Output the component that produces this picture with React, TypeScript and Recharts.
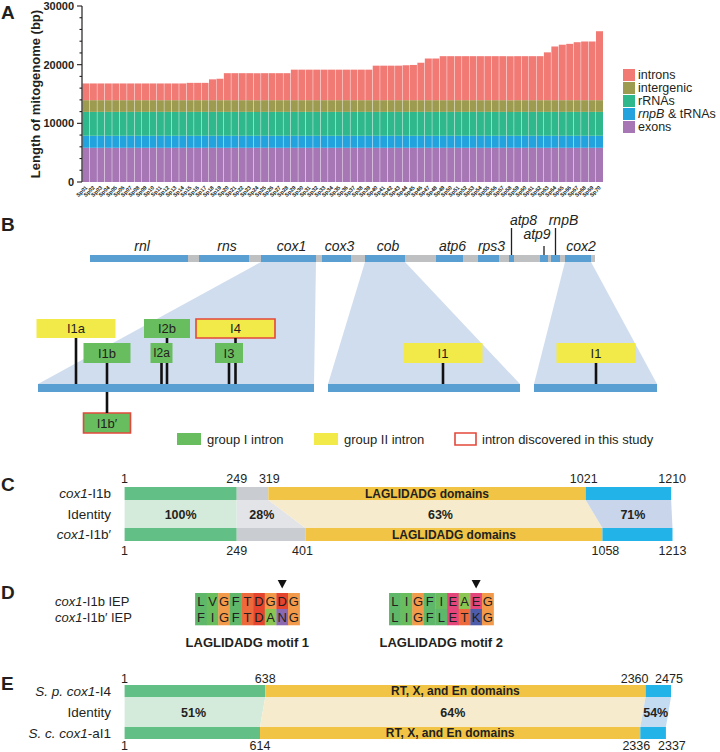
import React from 'react';
import {
  BarChart,
  Bar,
  XAxis,
  YAxis,
  Legend,
  ComposedChart,
  Area,
  ReferenceArea,
  ReferenceLine,
  Scatter,
} from 'recharts';

const SANS = "'Liberation Sans', Arial, Helvetica, sans-serif";
const INK = '#231f20';

// ---------------- A: mitogenome composition ----------------
const strainNames = (
  'Sp01 Sp02 Sp03 Sp04 Sp05 Sp06 Sp07 Sp08 Sp09 Sp10 Sp11 Sp12 Sp13 Sp14 ' +
  'Sp15 Sp16 Sp17 Sp18 Sp19 Sp20 Sp21 Sp22 Sp23 Sp24 Sp25 Sp26 Sp27 Sp28 ' +
  'Sp29 Sp30 Sp31 Sp32 Sp33 Sp34 Sp35 Sp36 Sp37 Sp38 Sp39 Sp40 Sp41 Sp42 ' +
  'Sp43 Sp44 Sp45 Sp46 Sp47 Sp48 Sp49 Sp50 Sp51 Sp52 Sp53 Sp54 Sp55 Sp56 ' +
  'Sp57 Sp58 Sp59 Sp60 Sp61 Sp62 Sp63 Sp64 Sp65 Sp66 Sp67 Sp68 Sp69 Sp70'
).split(' ');

const genomeLength = [
  16800, 16800, 16800, 16800, 16800, 16800, 16800, 16800, 16800, 16800, 16800, 16800, 16800, 16800,
  16900, 16900, 16900, 17500, 17600,
  18550, 18550, 18550, 18550, 18550, 18550, 18550, 18550, 18550,
  19150, 19150, 19150, 19150, 19150, 19150, 19150, 19150, 19150, 19150, 19150,
  19830, 19830, 19830, 19830, 19900, 19950, 20330, 21050, 21050,
  21450, 21450, 21450, 21450, 21450, 21450, 21450, 21450, 21450, 21450, 21450, 21450, 21450, 21450,
  22100, 23100, 23400, 23550, 23830, 23950, 23950, 25700,
];
const exonLength = 5830;
const rnpbTrnaLength = 2050;
const rrnaLength = 4070;
const intergenicLength = 2000;
const lengthTicks = [0, 2000, 4000, 6000, 8000, 10000, 12000, 14000, 16000, 18000, 20000, 22000, 24000, 26000, 28000, 30000];

const compositionSeries = [
  { key: 'exons', label: 'exons', color: '#a676b5' },
  { key: 'rnpB', label: 'rnpB & tRNAs', color: '#23a3dd' },
  { key: 'rRNAs', label: 'rRNAs', color: '#2fb88b' },
  { key: 'intergenic', label: 'intergenic', color: '#9c9b4f' },
  { key: 'introns', label: 'introns', color: '#f27a75' },
];

const compositionData = strainNames.map((name, i) => ({
  name,
  exons: exonLength,
  rnpB: rnpbTrnaLength,
  rRNAs: rrnaLength,
  intergenic: intergenicLength,
  introns: genomeLength[i] - exonLength - rnpbTrnaLength - rrnaLength - intergenicLength,
}));

// ---------------- B: gene map and intron positions ----------------
const geneMap = [
  { gene: 'rnl', start: 90, end: 188 },
  { gene: 'rns', start: 199, end: 249 },
  { gene: 'cox1', start: 261, end: 316 },
  { gene: 'cox3', start: 322, end: 351 },
  { gene: 'cob', start: 365, end: 405 },
  { gene: 'atp6', start: 436, end: 463 },
  { gene: 'rps3', start: 478, end: 499 },
  { gene: 'atp8', start: 509, end: 514 },
  { gene: 'atp9', start: 540, end: 548 },
  { gene: 'rnpB', start: 551, end: 560 },
  { gene: 'cox2', start: 565, end: 591 },
];
const mapSpan = [90, 595];
const expandedGenes = [
  { gene: 'cox1', from: 38, to: 314 },
  { gene: 'cob', from: 328, to: 520 },
  { gene: 'cox2', from: 534, to: 657 },
];
const introns = [
  { name: 'I1a', site: 76, group: 'II', tier: 'upper', novel: false },
  { name: 'I2b', site: 167, group: 'I', tier: 'upper', novel: false },
  { name: 'I4', site: 235.5, group: 'II', tier: 'upper', novel: true },
  { name: 'I1b', site: 107, group: 'I', tier: 'middle', novel: false },
  { name: 'I2a', site: 161.5, group: 'I', tier: 'middle', novel: false },
  { name: 'I3', site: 229, group: 'I', tier: 'middle', novel: false },
  { name: 'I1', site: 443, group: 'II', tier: 'middle', novel: false },
  { name: 'I1', site: 596, group: 'II', tier: 'middle', novel: false },
  { name: 'I1b′', site: 107, group: 'I', tier: 'below', novel: true },
];
const intronBoxWidth: Record<string, number> = { I1a: 79, I2b: 46, I4: 79, I1b: 47, I2a: 22, I3: 28, I1: 79, 'I1b′': 47 };
const intronLegend = [
  { label: 'group I intron', kind: 'I' },
  { label: 'group II intron', kind: 'II' },
  { label: 'intron discovered in this study', kind: 'novel' },
];

// ---------------- C: cox1-I1b vs cox1-I1b' ----------------
const i1bBounds = [1, 249, 319, 1021, 1210];
const i1bPrimeBounds = [1, 249, 401, 1058, 1213];
const i1bIdentity = ['100%', '28%', '63%', '71%'];

// ---------------- D: LAGLIDADG motifs ----------------
const iepNames = ['*cox1*-I1b IEP', '*cox1*-I1b′ IEP'];
const motifSeqs = [
  ['LVGFTDGDG', 'FIGFTDANG'],
  ['LIGFIEAEG', 'LIGFLETKG'],
];
const motifTitles = ['LAGLIDADG motif 1', 'LAGLIDADG motif 2'];
const motifStartCol = [16.8, 33.5];
const markedResidue = 7;

// ---------------- E: S. p. cox1-I4 vs S. c. cox1-aI1 ----------------
const i4Bounds = [1, 638, 2360, 2475];
const ai1Bounds = [1, 614, 2336, 2452]; // last block drawn wider than its length
const ai1Labels = [1, 614, 2336, 2337];
const i4Identity = ['51%', '64%', '54%'];

// ---------------- colours ----------------
const GENE_BLUE = '#5a9fd2';
const MAP_GREY = '#bfc0c2';
const ZOOM_FILL = '#d0ddee';
const GROUP1 = '#68bd5e';
const GROUP2 = '#f1ea48';
const NOVEL = '#e2483b';
const SEG = { n: '#62bf85', link: '#c9ccd0', dom: '#f1c445', c: '#22b4e9' };
const BAND = { n: '#d4ebdc', link: '#e2e4e7', dom: '#f6ebcc', c: '#c9d5ea', c2: '#c3dcf2' };
const residueColors: Record<string, string> = {
  L: '#5fb86a', V: '#6abd5c', I: '#6abd5c', F: '#5fb86a', A: '#8cc652',
  G: '#f39a4a', T: '#ec6a3c', D: '#e5442f', N: '#8c68b0', E: '#e4457a', K: '#4e5daa',
};

// "*text*" marks italic pieces
const rich = (s: string) =>
  s.split('*').map((seg, k) =>
    seg ? (
      <tspan key={k} fontStyle={k % 2 ? 'italic' : undefined}>
        {seg}
      </tspan>
    ) : null
  );

const textShape =
  (size: number, weight = 400, anchor = 'middle', italic = false) =>
  (p: any) =>
    (
      <text
        x={p.cx + (p.payload.dx || 0)}
        y={p.cy}
        textAnchor={anchor}
        fontSize={size}
        fontWeight={weight}
        fontStyle={italic ? 'italic' : 'normal'}
        fill={INK}
        fontFamily={SANS}
      >
        {rich(p.payload.t)}
      </text>
    );

// trapezoid between a top span and a bottom span, as a range area over x
function bandPoints(top: number[], bottom: number[], yTop: number, yBot: number) {
  const [a, b] = top;
  const [c, d] = bottom;
  const xs = Array.from(new Set([a, b, c, d])).sort((p, q) => p - q);
  return xs.map((x) => {
    let t0 = 0;
    let t1 = 1;
    const edge = (p0: number, p1: number, isLeft: boolean) => {
      const k = p1 - p0;
      if (Math.abs(k) < 1e-9) return;
      const t = (x - p0) / k;
      if (isLeft === k > 0) t1 = Math.min(t1, t);
      else t0 = Math.max(t0, t);
    };
    edge(a, c, true);
    edge(b, d, false);
    t0 = Math.min(Math.max(t0, 0), 1);
    t1 = Math.min(Math.max(t1, t0), 1);
    return { x, y: [yTop + (yBot - yTop) * t0, yTop + (yBot - yTop) * t1] };
  });
}

// ---------------- panel A ----------------
const AXIS_X = 82;

function LengthTick({ y, payload }: any) {
  const major = payload.value % 10000 === 0;
  return (
    <g>
      <line x1={AXIS_X - (major ? 5 : 2.5)} x2={AXIS_X} y1={y} y2={y} stroke={INK} strokeWidth={1.1} />
      {major && (
        <text x={AXIS_X - 8} y={y + 4} textAnchor="end" fontSize={11} fontWeight={700} fill={INK} fontFamily={SANS}>
          {payload.value}
        </text>
      )}
    </g>
  );
}

function StrainTick({ x, y, payload }: any) {
  const tx = x + 2;
  const ty = y + 4;
  return (
    <text x={tx} y={ty} transform={`rotate(-45 ${tx} ${ty})`} textAnchor="end" fontSize={5.5} fontWeight={700} fill={INK} fontFamily={SANS}>
      {payload.value}
    </text>
  );
}

function CompositionLegend({ payload }: any) {
  const byName: Record<string, string> = {};
  (payload || []).forEach((e: any) => (byName[e.value] = e.color));
  const items = [...compositionSeries].reverse();
  return (
    <div style={{ fontFamily: SANS, fontSize: 12.5, color: INK }}>
      {items.map((s) => (
        <div key={s.key} style={{ display: 'flex', alignItems: 'center', height: 12.9, lineHeight: '12.9px' }}>
          <span style={{ width: 12, height: 12, background: byName[s.label] || s.color, marginRight: 3, flex: 'none' }} />
          <span style={{ whiteSpace: 'nowrap' }}>
            {s.label === 'rnpB & tRNAs' ? (
              <>
                <i>rnpB</i> &amp; tRNAs
              </>
            ) : (
              s.label
            )}
          </span>
        </div>
      ))}
    </div>
  );
}

function PanelA() {
  return (
    <div style={{ position: 'absolute', left: 0, top: 0 }}>
      <BarChart
        width={720}
        height={200}
        data={compositionData}
        margin={{ top: 6, right: 117, bottom: 0, left: 0 }}
        barCategoryGap={0.45}
      >
        <XAxis dataKey="name" interval={0} height={18} axisLine={false} tickLine={false} tickSize={0} tickMargin={2} tick={(p: any) => <StrainTick {...p} />} />
        <YAxis
          width={AXIS_X}
          domain={[0, 30000]}
          ticks={lengthTicks}
          interval={0}
          tickLine={false}
          axisLine={{ stroke: INK, strokeWidth: 1.2 }}
          tick={(p: any) => <LengthTick {...p} />}
          label={{
            value: 'Length of mitogenome (bp)',
            angle: -90,
            position: 'insideLeft',
            offset: 35,
            style: { textAnchor: 'middle', fontSize: 13, fontWeight: 700, fill: INK, fontFamily: SANS },
          }}
        />
        {compositionSeries.map((s) => (
          <Bar key={s.key} dataKey={s.key} name={s.label} stackId="len" fill={s.color} isAnimationActive={false} />
        ))}
        <Legend
          layout="vertical"
          align="center"
          verticalAlign="middle"
          wrapperStyle={{ left: 623, top: 69, width: 97 }}
          content={(p: any) => <CompositionLegend {...p} />}
        />
      </BarChart>
    </div>
  );
}

// ---------------- panel B ----------------
const MAP_Y = [255, 262];
const BASE_Y = [384, 392];
const TIER_Y: Record<string, number[]> = { upper: [319, 338], middle: [343, 363], below: [413, 433] };

// vertical stem pieces from an intron box to its exon line, skipping other boxes it passes behind
function stemPieces(n: (typeof introns)[number]) {
  const [y1, y2] = TIER_Y[n.tier];
  let pieces = [n.tier === 'below' ? [BASE_Y[1], y1] : [y2, BASE_Y[0]]];
  introns.forEach((o) => {
    if (o === n) return;
    const w = intronBoxWidth[o.name];
    if (Math.abs(o.site - n.site) > w / 2) return;
    const [b1, b2] = TIER_Y[o.tier];
    pieces = pieces.flatMap(([s, e]) => {
      if (b2 <= s || b1 >= e) return [[s, e]];
      const out: number[][] = [];
      if (b1 > s) out.push([s, b1]);
      if (b2 < e) out.push([b2, e]);
      return out;
    });
  });
  return pieces;
}

function PanelB() {
  const geneOf = (g: string) => geneMap.find((m) => m.gene === g)!;
  const plainLabels = geneMap
    .filter((g) => !['atp8', 'atp9', 'rnpB'].includes(g.gene))
    .map((g) => ({ x: (g.start + g.end) / 2 + 3, y: 251, t: g.gene }));
  const callouts = [
    { gene: 'atp8', labelY: 225, lineTop: 228, dx: 12 },
    { gene: 'rnpB', labelY: 225, lineTop: 228, dx: 8 },
    { gene: 'atp9', labelY: 239, lineTop: 246, dx: -7 },
  ];
  return (
    <div style={{ position: 'absolute', left: 0, top: 212 }}>
      <ComposedChart width={720} height={240} margin={{ top: 0, right: 0, bottom: 0, left: 0 }}>
        <XAxis type="number" dataKey="x" domain={[0, 720]} hide />
        <YAxis type="number" dataKey="y" domain={[212, 452]} reversed hide />
        {expandedGenes.map((z) => {
          const g = geneOf(z.gene);
          return (
            <Area
              key={z.gene}
              data={bandPoints([g.start, g.end], [z.from, z.to], MAP_Y[1], BASE_Y[0])}
              dataKey="y"
              type="linear"
              stroke="none"
              fill={ZOOM_FILL}
              fillOpacity={1}
              dot={false}
              activeDot={false}
              isAnimationActive={false}
            />
          );
        })}
        <ReferenceArea x1={mapSpan[0]} x2={mapSpan[1]} y1={MAP_Y[0]} y2={MAP_Y[1]} fill={MAP_GREY} fillOpacity={1} />
        {geneMap.map((g) => (
          <ReferenceArea key={g.gene} x1={g.start} x2={g.end} y1={MAP_Y[0]} y2={MAP_Y[1]} fill={GENE_BLUE} fillOpacity={1} />
        ))}
        {callouts.map((c) => {
          const g = geneOf(c.gene);
          const cx = (g.start + g.end) / 2;
          return (
            <ReferenceLine
              key={c.gene}
              segment={[{ x: cx, y: c.lineTop }, { x: cx, y: MAP_Y[0] }]}
              stroke={INK}
              strokeWidth={1.3}
            />
          );
        })}
        {expandedGenes.map((z) => (
          <ReferenceArea key={z.gene + 'base'} x1={z.from} x2={z.to} y1={BASE_Y[0]} y2={BASE_Y[1]} fill={GENE_BLUE} fillOpacity={1} />
        ))}
        {introns.flatMap((n, i) =>
          stemPieces(n).map(([s, e], k) => (
            <ReferenceLine
              key={`stem${i}-${k}`}
              segment={[{ x: n.site, y: s }, { x: n.site, y: e }]}
              stroke="#111"
              strokeWidth={2.6}
            />
          ))
        )}
        {introns.map((n, i) => {
          const [y1, y2] = TIER_Y[n.tier];
          const w = intronBoxWidth[n.name];
          return (
            <ReferenceArea
              key={'box' + i}
              x1={n.site - w / 2}
              x2={n.site + w / 2}
              y1={y1}
              y2={y2}
              fill={n.group === 'I' ? GROUP1 : GROUP2}
              fillOpacity={1}
              stroke={n.novel ? NOVEL : 'none'}
              strokeWidth={n.novel ? 1.6 : 0}
              label={{ value: n.name, position: 'center', fontSize: w < 25 ? 12 : 13, fill: INK, fontFamily: SANS }}
            />
          );
        })}
        {intronLegend.map((l, i) => {
          const x = [177, 314, 455][i];
          const w = l.kind === 'novel' ? 21 : 24;
          return (
            <ReferenceArea
              key={l.label}
              x1={x}
              x2={x + w}
              y1={433}
              y2={445}
              fill={l.kind === 'I' ? GROUP1 : l.kind === 'II' ? GROUP2 : '#fff'}
              fillOpacity={1}
              stroke={l.kind === 'novel' ? NOVEL : 'none'}
              strokeWidth={1.6}
              label={{ value: l.label, position: 'right', offset: 6, fontSize: 13, fill: INK, fontFamily: SANS }}
            />
          );
        })}
        <Scatter data={plainLabels} shape={textShape(14, 400, 'middle', true)} isAnimationActive={false} />
        <Scatter
          data={callouts.map((c) => {
            const g = geneOf(c.gene);
            return { x: (g.start + g.end) / 2 + c.dx, y: c.labelY, t: c.gene };
          })}
          shape={textShape(14, 400, 'middle', true)}
          isAnimationActive={false}
        />
      </ComposedChart>
    </div>
  );
}

// ---------------- panels C and E ----------------
function AlignmentPanel(p: {
  top: number;
  height: number;
  max: number;
  right: number;
  rows: string[];
  rowY: number[];
  upper: number[];
  lower: number[];
  upperText: number[];
  lowerText: number[];
  upperDx: number[];
  lowerDx: number[];
  identity: string[];
  segColors: string[];
  bandColors: string[];
  domainIdx: number;
  domainText: string;
  bar1: number[];
  bar2: number[];
  numTop: number;
  numBot: number;
  idY: number;
}) {
  const nSeg = p.upper.length - 1;
  const segIdx = Array.from({ length: nSeg }, (_, i) => i);
  const idMarks = segIdx.map((i) => ({
    x: (p.upper[i] + p.upper[i + 1] + p.lower[i] + p.lower[i + 1]) / 4,
    y: p.idY,
    t: p.identity[i],
  }));
  const domainLabel = { value: p.domainText, position: 'center', fontSize: 12, fontWeight: 700, fill: INK, fontFamily: SANS };
  return (
    <div style={{ position: 'absolute', left: 0, top: p.top }}>
      <ComposedChart width={720} height={p.height} margin={{ top: 0, right: p.right, bottom: 0, left: 0 }}>
        <XAxis type="number" dataKey="x" domain={[1, p.max]} hide />
        <YAxis
          type="number"
          dataKey="y"
          domain={[p.top, p.top + p.height]}
          reversed
          width={124.6}
          axisLine={false}
          tickLine={false}
          tickSize={0}
          tickMargin={13.6}
          ticks={p.rowY}
          interval={0}
          tick={(t: any) => (
            <text x={t.x} y={t.y + 4.5} textAnchor="end" fontSize={13.5} fill={INK} fontFamily={SANS}>
              {rich(p.rows[t.index])}
            </text>
          )}
        />
        {segIdx.map((i) => (
          <Area
            key={'band' + i}
            data={bandPoints([p.upper[i], p.upper[i + 1]], [p.lower[i], p.lower[i + 1]], p.bar1[1], p.bar2[0])}
            dataKey="y"
            type="linear"
            stroke="none"
            fill={p.bandColors[i]}
            fillOpacity={1}
            dot={false}
            activeDot={false}
            isAnimationActive={false}
          />
        ))}
        {segIdx.map((i) => (
          <ReferenceArea
            key={'u' + i}
            x1={p.upper[i]}
            x2={p.upper[i + 1]}
            y1={p.bar1[0]}
            y2={p.bar1[1]}
            fill={p.segColors[i]}
            fillOpacity={1}
            label={i === p.domainIdx ? domainLabel : undefined}
          />
        ))}
        {segIdx.map((i) => (
          <ReferenceArea
            key={'l' + i}
            x1={p.lower[i]}
            x2={p.lower[i + 1]}
            y1={p.bar2[0]}
            y2={p.bar2[1]}
            fill={p.segColors[i]}
            fillOpacity={1}
            label={i === p.domainIdx ? domainLabel : undefined}
          />
        ))}
        <Scatter
          data={p.upper.map((v, i) => ({ x: v, y: p.numTop, t: String(p.upperText[i]), dx: p.upperDx[i] }))}
          shape={textShape(12.5)}
          isAnimationActive={false}
        />
        <Scatter
          data={p.lower.map((v, i) => ({ x: v, y: p.numBot, t: String(p.lowerText[i]), dx: p.lowerDx[i] }))}
          shape={textShape(12.5)}
          isAnimationActive={false}
        />
        <Scatter
          data={idMarks}
          shape={(s: any) => (
            <text x={s.cx} y={s.cy + 4.5} textAnchor="middle" fontSize={12.5} fontWeight={700} fill={INK} fontFamily={SANS}>
              {s.payload.t}
            </text>
          )}
          isAnimationActive={false}
        />
      </ComposedChart>
    </div>
  );
}

// ---------------- panel D ----------------
const CELL_W = 11.61;
const D_ROW_Y = [601, 617];

function PanelD() {
  const cells: any[] = [];
  motifSeqs.forEach((pair, m) =>
    pair.forEach((seq, r) =>
      seq.split('').forEach((aa, i) => cells.push({ x: motifStartCol[m] + i + 0.5, y: D_ROW_Y[r], aa }))
    )
  );
  const marks = motifStartCol.map((c) => ({ x: c + markedResidue + 0.5, y: 584 }));
  const titles = motifStartCol.map((c, m) => ({ x: c + 4.5, y: 647, t: motifTitles[m] }));
  const names = iepNames.map((t, r) => ({ x: 4.74, y: D_ROW_Y[r] + 4.5, t }));
  return (
    <div style={{ position: 'absolute', left: 0, top: 572 }}>
      <ComposedChart width={720} height={84} margin={{ top: 0, right: 0, bottom: 0, left: 0 }}>
        <XAxis type="number" dataKey="x" domain={[0, 62]} hide />
        <YAxis type="number" dataKey="y" domain={[572, 656]} reversed hide />
        <Scatter
          data={cells}
          isAnimationActive={false}
          shape={(s: any) => (
            <g>
              <rect x={s.cx - CELL_W / 2} y={s.cy - 8} width={CELL_W + 0.3} height={16.3} fill={residueColors[s.payload.aa]} />
              <text x={s.cx} y={s.cy + 4.7} textAnchor="middle" fontSize={13} fill={INK} fontFamily={SANS}>
                {s.payload.aa}
              </text>
            </g>
          )}
        />
        <Scatter
          data={marks}
          isAnimationActive={false}
          shape={(s: any) => <path d={`M${s.cx - 4.5},${s.cy - 4} L${s.cx + 4.5},${s.cy - 4} L${s.cx},${s.cy + 4.5} Z`} fill="#111" />}
        />
        <Scatter data={titles} shape={textShape(13, 700)} isAnimationActive={false} />
        <Scatter data={names} shape={textShape(13, 400, 'start')} isAnimationActive={false} />
      </ComposedChart>
    </div>
  );
}

// ---------------- page ----------------
const panelLetters = [
  { t: 'A', y: 19 },
  { t: 'B', y: 231 },
  { t: 'C', y: 491 },
  { t: 'D', y: 599 },
  { t: 'E', y: 690 },
];

export default function App() {
  return (
    <div style={{ position: 'absolute', left: 0, top: 0, width: 720, height: 752, background: '#fff', fontFamily: SANS, overflow: 'hidden' }}>
      <PanelA />
      <PanelB />
      <AlignmentPanel
        top={465}
        height={95}
        max={1213}
        right={47.5}
        rows={['*cox1*-I1b', 'Identity', '*cox1*-I1b′']}
        rowY={[493.5, 514.5, 534.5]}
        upper={i1bBounds}
        lower={i1bPrimeBounds}
        upperText={i1bBounds}
        lowerText={i1bPrimeBounds}
        upperDx={[0, 0, 1, -2, 1]}
        lowerDx={[0, 0, -3, 3, 0]}
        identity={i1bIdentity}
        segColors={[SEG.n, SEG.link, SEG.dom, SEG.c]}
        bandColors={[BAND.n, BAND.link, BAND.dom, BAND.c]}
        domainIdx={2}
        domainText="LAGLIDADG domains"
        bar1={[487, 500]}
        bar2={[528, 541]}
        numTop={483}
        numBot={555}
        idY={514}
      />
      <PanelD />
      <AlignmentPanel
        top={665}
        height={87}
        max={2475}
        right={49}
        rows={['*S. p. cox1*-I4', 'Identity', '*S. c. cox1*-aI1']}
        rowY={[691, 712, 733]}
        upper={i4Bounds}
        lower={ai1Bounds}
        upperText={i4Bounds}
        lowerText={ai1Labels}
        upperDx={[0, 0, -11, -2]}
        lowerDx={[0, 0, -4, 6]}
        identity={i4Identity}
        segColors={[SEG.n, SEG.dom, SEG.c]}
        bandColors={[BAND.n, BAND.dom, BAND.c2]}
        domainIdx={1}
        domainText="RT, X, and En domains"
        bar1={[685, 697]}
        bar2={[727, 739]}
        numTop={683}
        numBot={749.5}
        idY={712}
      />
      <svg width={720} height={752} style={{ position: 'absolute', left: 0, top: 0, pointerEvents: 'none' }}>
        {panelLetters.map((l) => (
          <text key={l.t} x={1} y={l.y} fontSize={19} fontWeight={700} fill={INK} fontFamily={SANS}>
            {l.t}
          </text>
        ))}
      </svg>
    </div>
  );
}
